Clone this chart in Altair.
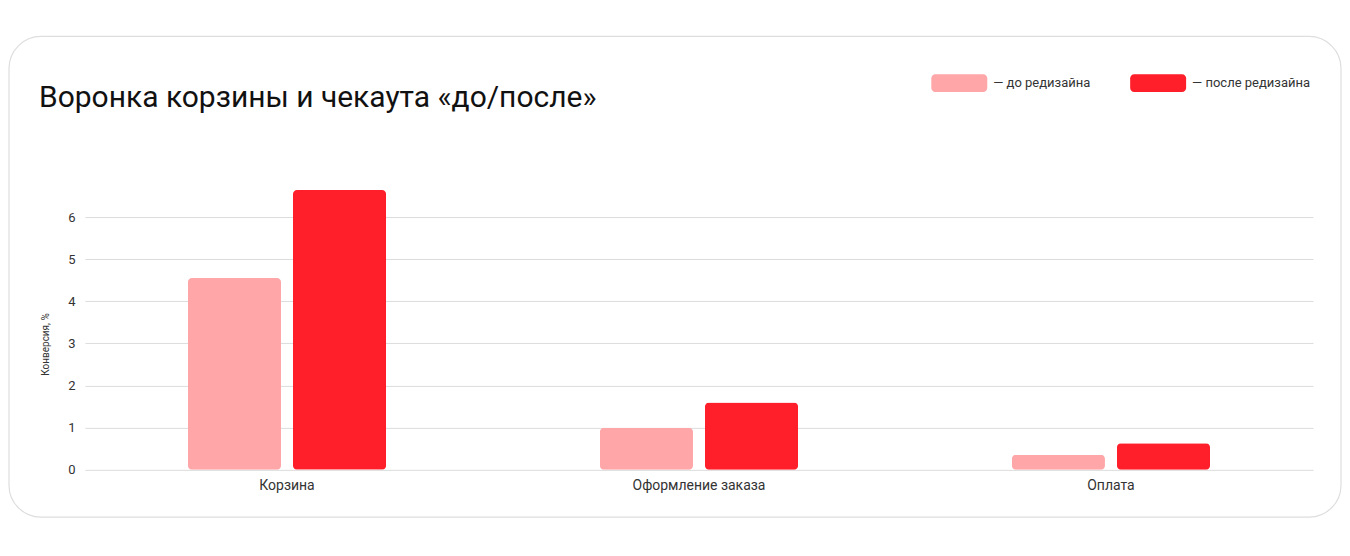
import altair as alt
import pandas as pd

categories = ["Корзина", "Оформление заказа", "Оплата"]
series = ["до редизайна", "после редизайна"]
before = [4.55, 1.0, 0.36]
after = [6.64, 1.6, 0.63]
colors = ["#FFA6A9", "#FF1F2A"]

rows = []
for i, c in enumerate(categories):
    rows.append({"stage": c, "series": series[0], "value": before[i]})
    rows.append({"stage": c, "series": series[1], "value": after[i]})
df = pd.DataFrame(rows)

W, H = 1229, 280
CARD_L, CARD_T = -76, -153.7
CARD_R, CARD_B = 1257, 327.3

rr = ("M-0.857,-0.32H0.857A0.143,0.143 0 0 1 1,-0.177V0.177"
      "A0.143,0.143 0 0 1 0.857,0.32H-0.857A0.143,0.143 0 0 1 -1,0.177"
      "V-0.177A0.143,0.143 0 0 1 -0.857,-0.32Z")

card = alt.Chart(alt.Data(values=[{}])).mark_rect(
    fill="transparent", stroke="#DEDEDE", strokeWidth=1.2, cornerRadius=32
).encode(
    x=alt.value(CARD_L), x2=alt.value(CARD_R),
    y=alt.value(CARD_T), y2=alt.value(CARD_B),
)

title = alt.Chart(alt.Data(values=[{"t": "Воронка корзины и чекаута «до/после»"}])).mark_text(
    align="left", baseline="alphabetic", fontSize=30, font="Roboto", color="#111111"
).encode(
    x=alt.value(-46), y=alt.value(-83.5), text="t:N"
)

bars = alt.Chart(df).mark_bar(cornerRadius=4).encode(
    x=alt.X("stage:N", sort=categories, title=None,
            scale=alt.Scale(paddingInner=0.519, paddingOuter=0.25),
            axis=alt.Axis(labelAngle=0, labelFontSize=14, labelColor="#333333",
                          labelPadding=9, domain=False, ticks=False, grid=False)),
    xOffset=alt.XOffset("series:N", sort=series, scale=alt.Scale(paddingInner=0.114, paddingOuter=0)),
    y=alt.Y("value:Q", title="Конверсия, %",
            scale=alt.Scale(domain=[0, 6.64], nice=False),
            axis=alt.Axis(values=[0, 1, 2, 3, 4, 5, 6], labelFontSize=13, labelColor="#333333",
                          labelPadding=10, domain=False, ticks=False, gridColor="#DCDCDC",
                          titleFontSize=10, titleFontWeight="normal", titleColor="#333333",
                          titleX=-39, titleY=154, titleBaseline="middle", titleAlign="center")),
    color=alt.Color("series:N", sort=series,
                    scale=alt.Scale(domain=series, range=colors),
                    legend=alt.Legend(title=None, orient="none", legendX=847, legendY=-135,
                                      direction="horizontal", symbolType=rr, symbolSize=3136,
                                      symbolStrokeWidth=0, symbolOpacity=1,
                                      labelExpr="'— ' + datum.label", labelFontSize=13,
                                      labelColor="#333333", labelOffset=6, columnPadding=39,
                                      padding=0)),
)

chart = alt.layer(card, title, bars).properties(
    width=W, height=H,
    padding={"left": 0, "top": 27, "right": 0, "bottom": 0},
).configure(font="Roboto").configure_view(stroke=None)

chart.save("out.html", embed_options={"renderer": "svg", "actions": False})
